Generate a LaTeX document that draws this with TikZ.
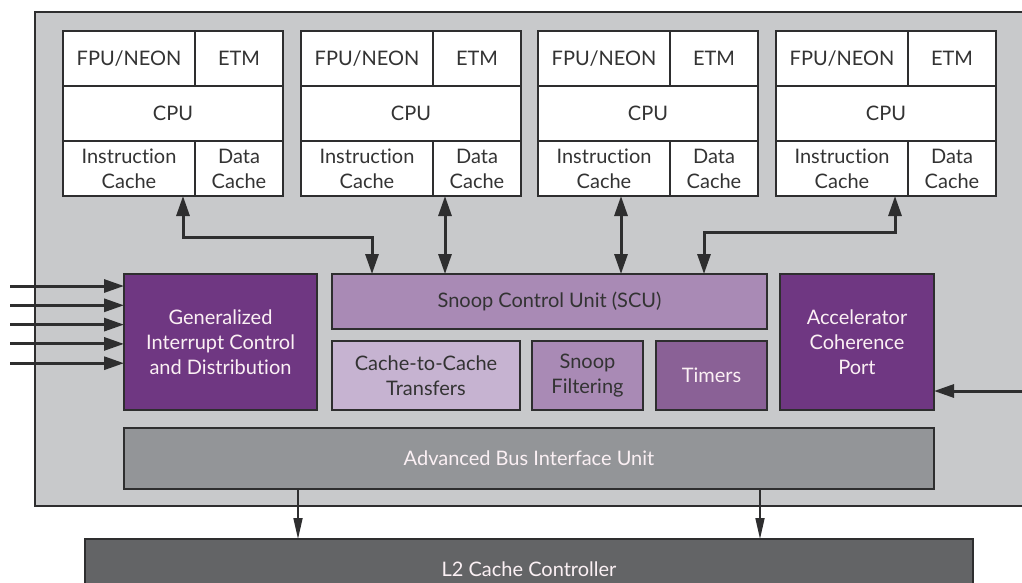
\documentclass[tikz,border=0pt]{standalone}
\usepackage{fontspec}
\setmainfont{Lato}[Ligatures=NoCommon]
\usetikzlibrary{arrows.meta,positioning}

\definecolor{socgray}{HTML}{C8C9CB}
\definecolor{linedark}{HTML}{2E2E2F}
\definecolor{textdark}{HTML}{333333}
\definecolor{deeppurple}{HTML}{6F3782}
\definecolor{midpurple}{HTML}{A98AB5}
\definecolor{palepurple}{HTML}{C6B3D1}
\definecolor{darkpurple}{HTML}{8A6196}
\definecolor{busgray}{HTML}{939598}
\definecolor{ltwogray}{HTML}{636466}

\begin{document}
\begin{tikzpicture}[x=1pt, y=-1pt,
    box/.style={draw=linedark, line width=1.6pt, inner sep=0pt, outer sep=0pt,
                anchor=north west, align=center, text=textdark,
                font=\fontsize{20}{25}\selectfont},
    cell/.style={box, fill=white, minimum height=55pt},
    lighttext/.style={text=white!94!purple},
    link/.style={draw=linedark, line width=3pt, >={Triangle[length=20pt,width=13pt]}},
    bus/.style={draw=linedark, line width=1.7pt, >={Triangle[length=21pt,width=9pt]}}]
    \path[use as bounding box] (0,0) rectangle (1022,582);
    \clip (0,0) rectangle (1022,582);

    % chip frame
    \node[box, fill=socgray, minimum width=1010pt, minimum height=494pt] (soc) at (35,12) {};

    % four cores
    \foreach \i/\x in {1/63,2/301,3/538,4/776}{
        \node[cell, minimum width=132pt] (fpu\i) at (\x,31) {FPU/NEON};
        \node[cell, minimum width=88pt] (etm\i) at (\x+132,31) {ETM};
        \node[cell, minimum width=220pt] (cpu\i) at (\x,86) {CPU};
        \node[cell, minimum width=132pt] (icache\i) at (\x,141) {Instruction\\Cache};
        \node[cell, minimum width=88pt] (dcache\i) at (\x+132,141) {Data\\Cache};
    }

    % shared blocks
    \node[box, fill=deeppurple, lighttext, minimum width=193pt, minimum height=136pt] (gic) at (124,274)
        {Generalized\\Interrupt Control\\and Distribution};
    \node[box, fill=midpurple, minimum width=435pt, minimum height=55pt] (scu) at (332,274) {Snoop Control Unit (SCU)};
    \node[box, fill=palepurple, minimum width=188pt, minimum height=69pt] (ctc) at (332,341) {Cache-to-Cache\\Transfers};
    \node[box, fill=midpurple, minimum width=111pt, minimum height=69pt, right=12pt of ctc.north east, anchor=north west] (filter) {Snoop\\Filtering};
    \node[box, fill=darkpurple, lighttext, minimum width=111pt, minimum height=69pt, right=13pt of filter.north east, anchor=north west] (timers) {Timers};
    \node[box, fill=deeppurple, lighttext, minimum width=154pt, minimum height=136pt] (acp) at (780,274)
        {Accelerator\\Coherence\\Port};
    \node[box, fill=busgray, lighttext, minimum width=810pt, minimum height=61pt] (abiu) at (124,428)
        {Advanced Bus Interface Unit};
    \node[box, fill=ltwogray, lighttext, minimum width=888pt, minimum height=60pt] (ltwo) at (85,539)
        {L2 Cache Controller};

    % core to SCU
    \coordinate (c1) at ([xshift=-12pt]icache1.south east);
    \coordinate (c2) at ([xshift=12pt]icache2.south east);
    \coordinate (c3) at ([xshift=-49pt]icache3.south east);
    \coordinate (c4) at ([xshift=-13pt]icache4.south east);
    \draw[link, <->] (c1) -- ++(0,41) -| ([xshift=40pt]scu.north west);
    \draw[link, <->] (c2) -- (c2 |- scu.north);
    \draw[link, <->] (c3) -- (c3 |- scu.north);
    \draw[link, <->] (c4) -- ++(0,36) -| ([xshift=-63pt]scu.north east);

    % interrupt lines
    \foreach \k in {0,...,4}{
        \coordinate (irq\k) at (10,286+19.3*\k);
        \draw[link, ->] (irq\k) -- (irq\k -| gic.west);
    }
    \coordinate (accin) at (1022,391);
    \draw[link, ->] (accin) -- (accin -| acp.east);

    % bus to L2
    \coordinate (b1) at ([xshift=174pt]abiu.south west);
    \coordinate (b2) at ([xshift=636pt]abiu.south west);
    \draw[bus, ->] (b1) -- (b1 |- ltwo.north);
    \draw[bus, ->] (b2) -- (b2 |- ltwo.north);
\end{tikzpicture}
\end{document}
